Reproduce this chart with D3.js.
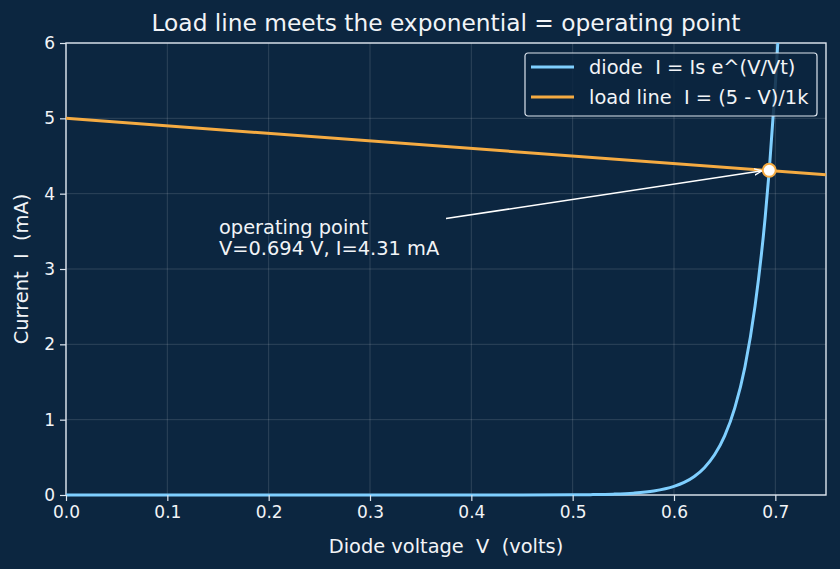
<!DOCTYPE html>
<html lang="en">
<head>
<meta charset="UTF-8">
<title>Load line meets the exponential</title>
<script src="https://d3js.org/d3.v7.min.js"></script>
<style>
    body { margin: 0; background: #0c2640; }
    text { font-family: "DejaVu Sans", sans-serif; fill: #f2f4f7; white-space: pre; }
</style>
</head>
<body>
<div id="chart"></div>
<script>
    // diode curve (volts, mA)
    const diodeV = [0, 0.1, 0.2, 0.3, 0.4, 0.45, 0.5, 0.52, 0.54, 0.56, 0.58, 0.6, 0.61, 0.62, 0.63, 0.64, 0.65, 0.66, 0.67, 0.68, 0.69, 0.694, 0.7, 0.705];
    const diodeI = [0, 0, 0, 0, 0.0002, 0.0004, 0.0024, 0.0051, 0.0112, 0.0242, 0.0524, 0.114, 0.167, 0.246, 0.363, 0.534, 0.785, 1.157, 1.70, 2.51, 3.69, 4.31, 5.44, 6.60];

    // load line end points
    const loadV = [0, 0.75];
    const loadI = [5, 4.25];

    const opV = 0.694, opI = 4.31;

    const xTicks = [0, 0.1, 0.2, 0.3, 0.4, 0.5, 0.6, 0.7];
    const yTicks = [0, 1, 2, 3, 4, 5, 6];

    const W = 840, H = 569;
    const margin = {top: 43, right: 14, bottom: 74, left: 66};
    const width = W - margin.left - margin.right;
    const height = H - margin.top - margin.bottom;

    const svg = d3.select("#chart").append("svg")
        .attr("width", W).attr("height", H);
    svg.append("rect").attr("width", W).attr("height", H).attr("fill", "#0c2640");

    const g = svg.append("g").attr("transform", `translate(${margin.left},${margin.top})`);

    const x = d3.scaleLinear().domain([0, 0.75]).range([0, width]);
    const y = d3.scaleLinear().domain([0, 6]).range([height, 0]);

    // grid
    g.append("g").selectAll("line").data(xTicks).enter().append("line")
        .attr("x1", d => x(d)).attr("x2", d => x(d))
        .attr("y1", 0).attr("y2", height)
        .attr("stroke", "#ffffff").attr("stroke-opacity", 0.18).attr("stroke-width", 0.8);
    g.append("g").selectAll("line").data(yTicks).enter().append("line")
        .attr("x1", 0).attr("x2", width)
        .attr("y1", d => y(d)).attr("y2", d => y(d))
        .attr("stroke", "#ffffff").attr("stroke-opacity", 0.18).attr("stroke-width", 0.8);

    // spines (drawn under the curves so the flat part of the diode curve sits on top)
    g.append("rect").attr("width", width).attr("height", height)
        .attr("fill", "none").attr("stroke", "#dde5ee").attr("stroke-width", 1.4);

    const defs = svg.append("defs");
    defs.append("clipPath").attr("id", "clip")
        .append("rect").attr("x", -2).attr("width", width + 2).attr("height", height + 3);

    const plot = g.append("g").attr("clip-path", "url(#clip)");

    const diode = diodeV.map((v, i) => [v, diodeI[i]]);
    const load = loadV.map((v, i) => [v, loadI[i]]);

    const line = d3.line().x(d => x(d[0])).y(d => y(d[1])).curve(d3.curveMonotoneX);

    plot.append("path").datum(diode)
        .attr("d", line).attr("fill", "none")
        .attr("stroke", "#7fcfff").attr("stroke-width", 3);

    plot.append("path").datum(load)
        .attr("d", d3.line().x(d => x(d[0])).y(d => y(d[1])))
        .attr("fill", "none")
        .attr("stroke", "#f5ab42").attr("stroke-width", 3);

    // axes
    const xAxis = g.append("g").attr("transform", `translate(0,${height})`)
        .call(d3.axisBottom(x).tickValues(xTicks).tickFormat(d3.format(".1f")).tickSize(6).tickPadding(5));
    const yAxis = g.append("g")
        .call(d3.axisLeft(y).tickValues(yTicks).tickFormat(d3.format("d")).tickSize(6).tickPadding(5));
    [xAxis, yAxis].forEach(a => {
        a.attr("font-family", null).attr("font-size", null);
        a.select(".domain").remove();
        a.selectAll("line").attr("stroke", "#dde5ee").attr("stroke-width", 1.2);
        a.selectAll("text").style("font-size", "17px").attr("fill", "#f2f4f7");
    });

    // operating point annotation
    defs.append("marker").attr("id", "arrow")
        .attr("viewBox", "0 0 10 10").attr("refX", 10).attr("refY", 5)
        .attr("markerWidth", 8).attr("markerHeight", 8).attr("orient", "auto")
        .attr("markerUnits", "userSpaceOnUse")
        .append("path").attr("d", "M0,1 L10,5 L0,9").attr("fill", "none")
        .attr("stroke", "#ffffff").attr("stroke-width", 1.6);

    g.append("line")
        .attr("x1", x(0.375)).attr("y1", y(3.67))
        .attr("x2", x(opV) - 7).attr("y2", y(opI) + 0.5)
        .attr("stroke", "#ffffff").attr("stroke-width", 1.5)
        .attr("marker-end", "url(#arrow)");

    g.append("circle").attr("cx", x(opV)).attr("cy", y(opI)).attr("r", 6.5)
        .attr("fill", "#ffffff").attr("stroke", "#f5ab42").attr("stroke-width", 2);

    const ann = g.append("text").attr("x", x(0.151)).attr("y", y(3.48) + 1)
        .style("font-size", "19.4px");
    ann.append("tspan").attr("x", x(0.151)).text("operating point");
    ann.append("tspan").attr("x", x(0.151)).attr("dy", 21.5).text("V=0.694 V, I=4.31 mA");

    // legend
    const lg = svg.append("g").attr("transform", "translate(525,53)");
    lg.append("rect").attr("width", 292).attr("height", 63).attr("rx", 3)
        .attr("fill", "#0c2640").attr("fill-opacity", 0.85)
        .attr("stroke", "#dde5ee").attr("stroke-width", 1.2);
    const items = [["diode  I = Is e^(V/Vt)", "#7fcfff"], ["load line  I = (5 - V)/1k", "#f5ab42"]];
    items.forEach((it, i) => {
        const yy = 14 + i * 30;
        lg.append("line").attr("x1", 6).attr("x2", 49).attr("y1", yy).attr("y2", yy)
            .attr("stroke", it[1]).attr("stroke-width", 3);
        lg.append("text").attr("x", 64).attr("y", yy + 7).style("font-size", "19.4px").text(it[0]);
    });

    // title and axis labels
    svg.append("text").attr("x", margin.left + width / 2).attr("y", 31)
        .attr("text-anchor", "middle").style("font-size", "23.3px")
        .text("Load line meets the exponential = operating point");
    svg.append("text").attr("x", margin.left + width / 2).attr("y", 553)
        .attr("text-anchor", "middle").style("font-size", "19.4px")
        .text("Diode voltage  V  (volts)");
    svg.append("text").attr("transform", `translate(28,${margin.top + height / 2}) rotate(-90)`)
        .attr("text-anchor", "middle").style("font-size", "19.4px")
        .text("Current  I  (mA)");
</script>
</body>
</html>
